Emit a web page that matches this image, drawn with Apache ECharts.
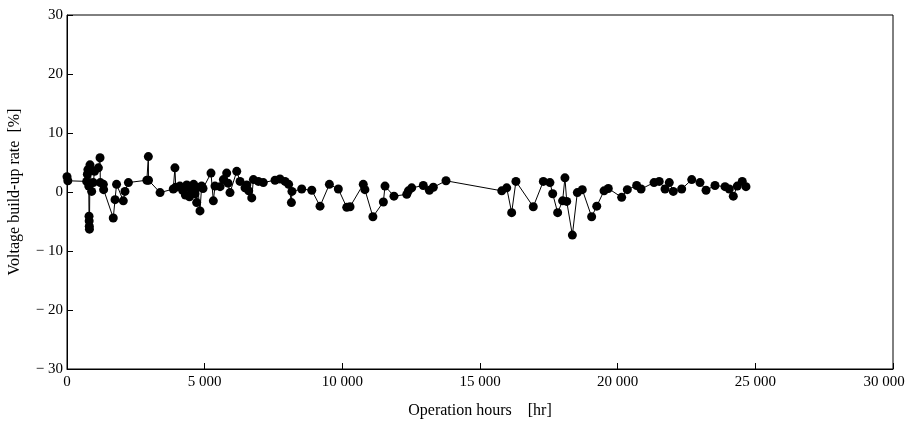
<!DOCTYPE html>
<html><head><meta charset="utf-8">
<script src="https://cdn.jsdelivr.net/npm/echarts@6/dist/echarts.min.js"></script>
<style>html,body{margin:0;padding:0;background:#fff}#c{width:907px;height:429px}</style>
</head><body><div id="c"></div>
<script>
const hours = [0,30,715,740,760,790,800,805,810,815,835,895,955,1000,1140,1200,1210,1320,1330,1680,1745,1800,2045,2105,2230,2900,2955,2960,3380,3860,3920,3950,4100,4200,4300,4350,4450,4500,4600,4650,4710,4750,4830,4890,4940,5230,5315,5375,5560,5680,5800,5850,5920,6165,6285,6465,6530,6600,6710,6770,6950,7130,7555,7735,7920,8050,8150,8170,8525,8890,9190,9530,9855,10160,10280,10760,10820,11110,11490,11550,11875,12340,12400,12520,12940,13160,13305,13765,15790,15970,16150,16305,16935,17300,17540,17640,17820,18000,18085,18150,18355,18535,18715,19055,19240,19505,19660,20145,20350,20690,20850,21320,21510,21720,21875,22020,22325,22690,22990,23210,23535,23900,24055,24200,24345,24525,24660];
const rate = [2.6,1.9,1.8,3.0,3.8,1.0,-4.1,-4.9,-5.8,-6.3,4.6,0.1,1.6,3.5,4.1,5.8,1.6,1.3,0.4,-4.4,-1.3,1.3,-1.5,0.1,1.6,2.0,6.0,2.0,-0.1,0.5,4.1,0.8,1.0,0.3,-0.5,1.2,-0.8,0.5,1.3,-0.3,-1.8,0.8,-3.2,1.0,0.6,3.2,-1.5,1.0,0.9,2.1,3.2,1.5,-0.1,3.5,1.8,0.7,1.2,0.2,-1.0,2.1,1.8,1.6,2.0,2.2,1.8,1.3,-1.8,0.1,0.5,0.3,-2.4,1.3,0.5,-2.6,-2.5,1.3,0.4,-4.2,-1.7,1.0,-0.7,-0.4,0.2,0.7,1.1,0.3,0.8,1.9,0.2,0.7,-3.5,1.8,-2.5,1.8,1.6,-0.3,-3.5,-1.5,2.4,-1.6,-7.3,-0.1,0.4,-4.2,-2.4,0.2,0.6,-0.9,0.4,1.1,0.5,1.6,1.8,0.5,1.6,0.1,0.5,2.1,1.6,0.3,1.1,0.9,0.5,-0.7,1.0,1.8,0.9];
const xTicks = [0,5000,10000,15000,20000,25000,30000];
const yTicks = [-30,-20,-10,0,10,20,30];

const chart = echarts.init(document.getElementById('c'));
const font = '"Liberation Serif","DejaVu Serif",serif';
const data = hours.map((h,i)=>[h,rate[i]]);
const xMax = xTicks[xTicks.length-1];
chart.setOption({
  animation:false,
  grid:{left:67,right:14,top:15,bottom:60,outerBoundsMode:'none',containLabel:false,show:true,borderColor:'#000',borderWidth:1,backgroundColor:'transparent'},
  xAxis:{type:'value',min:xTicks[0],max:xMax,interval:5000,
    name:'Operation hours    [hr]',nameLocation:'middle',nameGap:34,
    nameTextStyle:{fontFamily:font,fontSize:16,color:'#000'},
    axisLine:{onZero:false,lineStyle:{color:'#000',width:1}},
    axisTick:{inside:true,length:6,lineStyle:{color:'#000'}},
    splitLine:{show:false},
    axisLabel:{fontFamily:font,fontSize:15,color:'#000',margin:6,
      rich:{m:{fontFamily:font,fontSize:15,color:'#000',padding:[0,18,0,0]}},
      formatter:v=>{const s=String(v).replace(/\B(?=(\d{3})+(?!\d))/g,' ');return v===xMax?'{m|'+s+'}':s;}}},
  yAxis:{type:'value',min:yTicks[0],max:yTicks[yTicks.length-1],interval:10,
    name:'Voltage build-up rate  [%]',nameLocation:'middle',nameGap:44,nameRotate:90,
    nameTextStyle:{fontFamily:font,fontSize:16,color:'#000'},
    axisLine:{onZero:false,lineStyle:{color:'#000',width:1}},
    axisTick:{inside:true,length:6,lineStyle:{color:'#000'}},
    splitLine:{show:false},
    axisLabel:{fontFamily:font,fontSize:15,color:'#000',margin:4,
      formatter:v=>v<0?'\u2212 '+(-v):String(v)}},
  series:[{type:'line',data:data,symbol:'circle',symbolSize:9,showAllSymbol:true,
    itemStyle:{color:'#000'},lineStyle:{color:'#000',width:1}}]
});
</script></body></html>
